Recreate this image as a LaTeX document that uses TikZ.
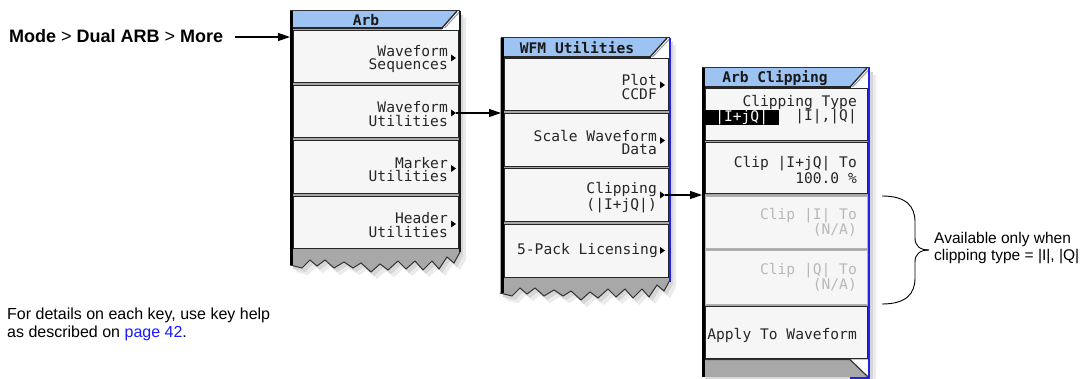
\documentclass[tikz,border=0pt]{standalone}
\usepackage{fontspec}
\setmainfont{Liberation Sans}
\newfontfamily\keyfont{DejaVu Sans Mono}
\usetikzlibrary{arrows.meta}
\definecolor{titleblue}{HTML}{9DC3F2}
\definecolor{edgeblue}{HTML}{2222EE}
\definecolor{keyfill}{HTML}{F6F6F6}
\definecolor{panelgrey}{HTML}{A8A8A8}
\definecolor{linkblue}{HTML}{1A1AFF}
\newcommand\mytitlebar[5]{%
  \fill[titleblue] (#1,#3) -- (#2-3,#3) -- (#5,#4) -- (#1,#4) -- cycle;
  \fill[white] (#5,#4) -- (#2-3,#3) -- (#2,#3) -- (#2,#4+2) -- (#5,#4+2) -- cycle;
  \draw[line width=1pt, black!80] (#1,#3) -- (#2,#3);
  \draw[line width=2pt, black!85] (#1,#4) -- (#5+1,#4);
  \draw[line width=1.3pt, black!85] (#5,#4) -- (#2-3,#3);
  \draw[line width=1pt, black!40] (#5+2.5,#4) -- (#2-1,#3+1.5);
}
\newcommand\mymarker[2]{\fill (#1-5,#2-3.5) -- (#1,#2) -- (#1-5,#2+3.5) -- cycle;}
\begin{document}
\begin{tikzpicture}[x=1pt,y=-1pt,
  keybox/.style={rectangle, draw=black!85, line width=1.4pt, fill=keyfill, inner sep=0pt, anchor=north west},
  dimbox/.style={keybox, draw=black!30},
  keytext/.style={font=\keyfont\fontsize{14.6}{13.5}\selectfont, align=right, anchor=east, inner sep=0pt, text=black!85},
  dimtext/.style={keytext, text=black!28},
  titletext/.style={font=\keyfont\bfseries\fontsize{14.6}{14}\selectfont, inner sep=0pt, text=black!90},
  conn/.style={line width=1.2pt, -{Triangle[length=12pt,width=8pt]}},
  jag/.style={insert path={-- ++(-6,11) -- ++(-7,-6) -- ++(-8,12) -- ++(-7,-8) -- ++(-9,9) -- ++(-8,-9) -- ++(-9,8) -- ++(-8,-8) -- ++(-10,9) -- ++(-8,-6) -- ++(-9,8) -- ++(-10,-9) -- ++(-8,5) -- ++(-9,-6) -- ++(-10,6) -- ++(-9,-8) -- ++(-8,6) -- ++(-7,-6) -- ++(-8,8) -- ++(-12,-3)}},
  shadowA/.style={fill=black!8},
  shadowB/.style={fill=black!16}
]
\useasboundingbox[fill=white] (0,0) rectangle (1092,379);

% ---------- shadows ----------
\begin{scope}[shift={(6,7)}]
  \path[shadowA] (290,11) -- (460,11) -- (460,252) [jag] -- cycle;
  \path[shadowA] (500,38) -- (670,38) -- (670,280) [jag] -- cycle;
  \path[shadowA] (702,68) rectangle (870,377);
\end{scope}
\begin{scope}[shift={(3,4)}]
  \path[shadowB] (290,11) -- (460,11) -- (460,252) [jag] -- cycle;
  \path[shadowB] (500,38) -- (670,38) -- (670,280) [jag] -- cycle;
  \path[shadowB] (702,68) rectangle (870,377);
\end{scope}

% ---------- Arb panel ----------
\fill[panelgrey] (290,11) -- (460,11) -- (460,252) [jag] -- cycle;
\draw[line width=1pt, black!80] (460,252) [jag];
\mytitlebar{290}{460}{11}{28}{442}
\node[titletext] (arbT) at (366,20.5) {Arb};
\node[keybox, minimum width=165pt, minimum height=52pt] (a1) at (293,30) {};
\node[keybox, minimum width=165pt, minimum height=52pt] (a2) at (293,85) {};
\node[keybox, minimum width=165pt, minimum height=53pt] (a3) at (293,140) {};
\node[keybox, minimum width=165pt, minimum height=52pt] (a4) at (293,196) {};
\draw[line width=3pt, black] (291.5,11) -- (291.5,265);
\draw[line width=2pt, black!90] (459.5,11) -- (459.5,252);
\node[keytext] (a1t) at (448,59) {Waveform\\Sequences};
\node[keytext] (a2t) at (448,114) {Waveform\\Utilities};
\node[keytext] (a3t) at (448,169.5) {Marker\\Utilities};
\node[keytext] (a4t) at (448,225) {Header\\Utilities};
\mymarker{456}{58}
\mymarker{456}{113}
\mymarker{456}{168.5}
\mymarker{456}{224}
\coordinate (a2m) at (456,113);

% ---------- WFM Utilities panel ----------
\fill[panelgrey] (500,38) -- (670,38) -- (670,280) [jag] -- cycle;
\draw[line width=1pt, black!80] (670,280) [jag];
\mytitlebar{501}{670}{38}{57}{650}
\node[titletext] (wfmT) at (577,48) {WFM Utilities};
\node[keybox, minimum width=164pt, minimum height=52pt] (w1) at (504,58) {};
\node[keybox, minimum width=164pt, minimum height=53pt] (w2) at (504,113) {};
\node[keybox, minimum width=164pt, minimum height=53pt] (w3) at (504,168) {};
\node[keybox, minimum width=164pt, minimum height=53pt] (w4) at (504,224) {};
\draw[line width=3pt, black] (502.5,38) -- (502.5,293);
\draw[line width=2pt, edgeblue] (669.5,38) -- (669.5,282);
\node[keytext] (w1t) at (657,87) {Plot\\CCDF};
\node[keytext] (w2t) at (657,142.5) {Scale Waveform\\Data};
\node[keytext] (w3t) at (657,197.5) {Clipping\\(|I+jQ|)};
\node[keytext] (w4t) at (658,251) {5-Pack Licensing};
\mymarker{665}{85}
\mymarker{665}{140.5}
\mymarker{665}{195}
\mymarker{665}{250.5}
\coordinate (w3m) at (665,195);

% ---------- Arb Clipping panel ----------
\fill[panelgrey] (702,68) rectangle (870,377);
\mytitlebar{702}{870}{68}{87}{850}
\node[titletext] (clipT) at (775,78) {Arb Clipping};
\node[keybox, minimum width=162pt, minimum height=52pt] (c1) at (705,88) {};
\node[keybox, minimum width=162pt, minimum height=51pt] (c2) at (705,142) {};
\node[dimbox, minimum width=162pt, minimum height=52pt] (c3) at (705,196) {};
\node[dimbox, minimum width=162pt, minimum height=54pt] (c4) at (705,250) {};
\node[keybox, minimum width=162pt, minimum height=52pt] (c5) at (705,306) {};
\fill[white] (850,359.5) -- (868,359.5) -- (868,377) -- cycle;
\draw[line width=1.2pt, black!80] (705,359.5) -- (850,359.5) -- (868,377);
\draw[line width=3pt, black] (703.5,68) -- (703.5,377);
\draw[line width=2pt, edgeblue] (869,68) -- (869,377.5) -- (850,377.5);
\node[keytext, anchor=base east] (c1t) at (857,107) {Clipping Type};
\node[fill=black, minimum width=75pt, minimum height=11pt, inner sep=0pt, anchor=west, text=white, font=\keyfont\fontsize{14.6}{13.5}\selectfont] (c1h) at (704,117.5) {|I+jQ|};
\node[keytext, anchor=base east] (c1b) at (857,121) {|I|,|Q|};
\node[keytext] (c2t) at (857,170) {Clip |I+jQ| To\\100.0 \%};
\node[dimtext] (c3t) at (857,222.5) {Clip |I| To\\(N/A)};
\node[dimtext] (c4t) at (857,277.5) {Clip |Q| To\\(N/A)};
\node[keytext] (c5t) at (857,335) {Apply To Waveform};

% ---------- texts ----------
\node[anchor=base west, inner sep=0pt, font=\bfseries\fontsize{18}{20}\selectfont] (mode) at (9,43) {Mode {\mdseries >} Dual ARB {\mdseries >} More};
\node[anchor=west, inner sep=0pt, align=left, font=\fontsize{16}{18}\selectfont] (note) at (7,324) {For details on each key, use key help\\as described on \textcolor{linkblue}{page 42}.};
\node[anchor=west, inner sep=0pt, align=left, font=\fontsize{15.5}{17}\selectfont] (avail) at (934,248) {Available only when\\clipping type = |I|, |Q|};

% ---------- connectors ----------
\coordinate (arbL) at (290,37);
\coordinate (wfmL) at (501,113);
\coordinate (clipL) at (702,195);
\draw[conn] ([xshift=12pt]mode.east |- arbL) -- (arbL);
\draw[conn] (a2m) -- (wfmL);
\draw[conn] (w3m) -- (clipL);

% ---------- brace ----------
\coordinate (brT) at (882,196);
\coordinate (brB) at (882,304);
\coordinate (brM) at (929,250);
\draw[line width=0.9pt] (brT) .. controls (906,196) and (915,206) .. (915,222) -- (915,238) .. controls (915,246) and (920,250) .. (brM);
\draw[line width=0.9pt] (brM) .. controls (920,250) and (915,254) .. (915,262) -- (915,278) .. controls (915,294) and (906,304) .. (brB);
\end{tikzpicture}
\end{document}
